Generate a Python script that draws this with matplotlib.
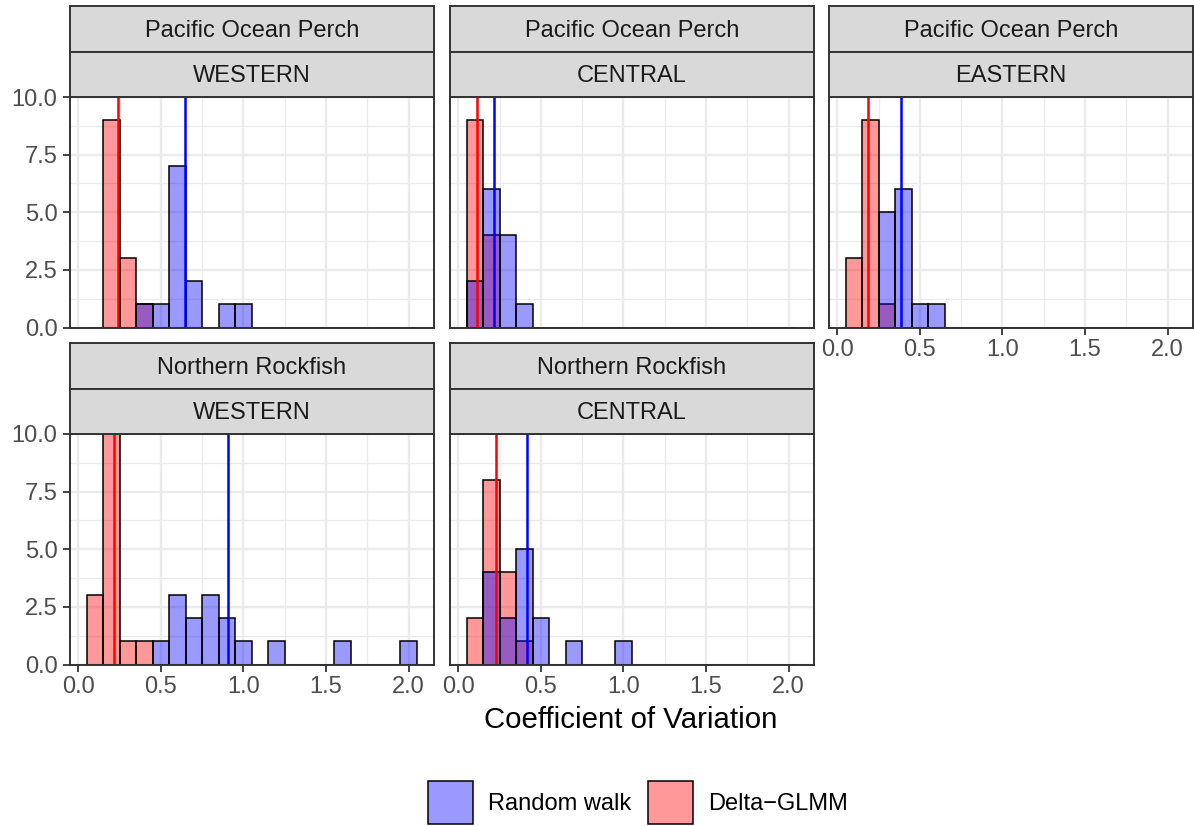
import matplotlib
matplotlib.use("Agg")
import matplotlib.pyplot as plt
from matplotlib.patches import Rectangle

plt.rcParams['font.family'] = ['Liberation Sans', 'DejaVu Sans']

# ---------------- data ----------------
bin_centers = [0.1, 0.2, 0.3, 0.4, 0.5, 0.6, 0.7, 0.8, 0.9, 1.0,
               1.1, 1.2, 1.3, 1.4, 1.5, 1.6, 1.7, 1.8, 1.9, 2.0]
bin_width = 0.1

species = ["Pacific Ocean Perch", "Pacific Ocean Perch", "Pacific Ocean Perch",
           "Northern Rockfish", "Northern Rockfish"]
regions = ["WESTERN", "CENTRAL", "EASTERN", "WESTERN", "CENTRAL"]

# counts per bin (Random walk)
rw_pop_w = [0, 0, 0, 1, 1, 7, 2, 0, 1, 1, 0, 0, 0, 0, 0, 0, 0, 0, 0, 0]
rw_pop_c = [2, 6, 4, 1, 0, 0, 0, 0, 0, 0, 0, 0, 0, 0, 0, 0, 0, 0, 0, 0]
rw_pop_e = [0, 0, 5, 6, 1, 1, 0, 0, 0, 0, 0, 0, 0, 0, 0, 0, 0, 0, 0, 0]
rw_nr_w = [0, 0, 0, 0, 1, 3, 2, 3, 2, 1, 0, 1, 0, 0, 0, 1, 0, 0, 0, 1]
rw_nr_c = [0, 4, 2, 5, 2, 0, 1, 0, 0, 1, 0, 0, 0, 0, 0, 0, 0, 0, 0, 0]

# counts per bin (Delta-GLMM)
dg_pop_w = [0, 9, 3, 1, 0, 0, 0, 0, 0, 0, 0, 0, 0, 0, 0, 0, 0, 0, 0, 0]
dg_pop_c = [9, 4, 0, 0, 0, 0, 0, 0, 0, 0, 0, 0, 0, 0, 0, 0, 0, 0, 0, 0]
dg_pop_e = [3, 9, 1, 0, 0, 0, 0, 0, 0, 0, 0, 0, 0, 0, 0, 0, 0, 0, 0, 0]
dg_nr_w = [3, 10, 1, 1, 0, 0, 0, 0, 0, 0, 0, 0, 0, 0, 0, 0, 0, 0, 0, 0]
dg_nr_c = [2, 8, 4, 1, 0, 0, 0, 0, 0, 0, 0, 0, 0, 0, 0, 0, 0, 0, 0, 0]

# mean CV lines
rw_means = [0.649, 0.214, 0.384, 0.907, 0.419]
dg_means = [0.241, 0.113, 0.185, 0.218, 0.228]

rw_counts = [rw_pop_w, rw_pop_c, rw_pop_e, rw_nr_w, rw_nr_c]
dg_counts = [dg_pop_w, dg_pop_c, dg_pop_e, dg_nr_w, dg_nr_c]

legend_labels = ["Random walk", "Delta\u2212GLMM"]
x_ticks = [0.0, 0.5, 1.0, 1.5, 2.0]
y_ticks = [0.0, 2.5, 5.0, 7.5, 10.0]

# ---------------- layout ----------------
W, H = 1194, 826
fig = plt.figure(figsize=(W / 100, H / 100), dpi=100)

def fr(x0, y0, x1, y1):
    return [x0 / W, 1 - y1 / H, (x1 - x0) / W, (y1 - y0) / H]

cols = [(70, 433.5), (450, 813.5), (829, 1192.5)]
rows = [dict(s0=6, s1=52, s2=97, p1=327.5), dict(s0=343, s1=389, s2=434, p1=664.5)]
positions = [(0, 0), (0, 1), (0, 2), (1, 0), (1, 1)]

blue_fill = (0, 0, 1, 0.4)
red_fill = (1, 0, 0, 0.4)
border_col = "#333333"
grid_col = "#EBEBEB"
tick_col = "#4D4D4D"
small_fs = 17

for i, (r, c) in enumerate(positions):
    x0, x1 = cols[c]
    rr = rows[r]
    ax = fig.add_axes(fr(x0, rr['s2'], x1, rr['p1']))
    ax.set_xlim(-0.05, 2.15)
    ax.set_ylim(0, 10)
    ax.set_xticks(x_ticks)
    ax.set_yticks(y_ticks)
    ax.set_xticks([0.25, 0.75, 1.25, 1.75], minor=True)
    ax.set_yticks([1.25, 3.75, 6.25, 8.75], minor=True)
    ax.grid(True, which='major', color=grid_col, linewidth=1.7, zorder=0)
    ax.grid(True, which='minor', color=grid_col, linewidth=0.9, zorder=0)
    ax.set_axisbelow(True)
    ax.tick_params(which='minor', length=0)
    ax.tick_params(which='major', length=5, width=1.3, color=border_col,
                   labelcolor=tick_col, labelsize=small_fs)
    ax.tick_params(axis='x', pad=3.5)
    ax.tick_params(axis='y', pad=4)
    for sp in ax.spines.values():
        sp.set_color(border_col)
        sp.set_linewidth(1.4)
        sp.set_zorder(10)

    ax.bar(bin_centers, dg_counts[i], width=bin_width, color=red_fill,
           edgecolor='black', linewidth=1.1, zorder=2)
    ax.bar(bin_centers, rw_counts[i], width=bin_width, color=blue_fill,
           edgecolor='black', linewidth=1.1, zorder=3)
    ax.axvline(dg_means[i], color='red', linewidth=1.8, zorder=4)
    ax.axvline(rw_means[i], color='blue', linewidth=1.8, zorder=4)

    ax.yaxis.set_major_formatter(matplotlib.ticker.FormatStrFormatter('%.1f'))
    ax.xaxis.set_major_formatter(matplotlib.ticker.FormatStrFormatter('%.1f'))
    if c != 0:
        ax.tick_params(axis='y', left=False, labelleft=False)
    if not (r == 1 or c == 2):
        ax.tick_params(axis='x', bottom=False, labelbottom=False)

    # strips
    for (sa, sb, txt) in [(rr['s0'], rr['s1'], species[i]), (rr['s1'], rr['s2'], regions[i])]:
        sax = fig.add_axes(fr(x0, sa, x1, sb))
        sax.set_facecolor("#D9D9D9")
        sax.set_xticks([])
        sax.set_yticks([])
        for sp in sax.spines.values():
            sp.set_color(border_col)
            sp.set_linewidth(1.4)
        sax.text(0.5, 0.46, txt, ha='center', va='center', fontsize=small_fs,
                 color="#1A1A1A", transform=sax.transAxes)

# axis title
fig.text(631 / W, 1 - 720 / H, "Coefficient of Variation", ha='center', va='center',
         fontsize=21.2, color='black')

# legend
key_boxes = [(428, 473), (648, 693)]
text_x = [488, 708]
fills = [blue_fill, red_fill]
for (kx0, kx1), tx, fc, lab in zip(key_boxes, text_x, fills, legend_labels):
    fig.add_artist(Rectangle((kx0 / W, 1 - 824 / H), (kx1 - kx0) / W, 43 / H,
                             transform=fig.transFigure, facecolor=fc,
                             edgecolor='black', linewidth=1.1))
    fig.text(tx / W, 1 - 804.5 / H, lab, ha='left', va='center', fontsize=small_fs,
             color='black')

fig.savefig("out.png", dpi=100)
